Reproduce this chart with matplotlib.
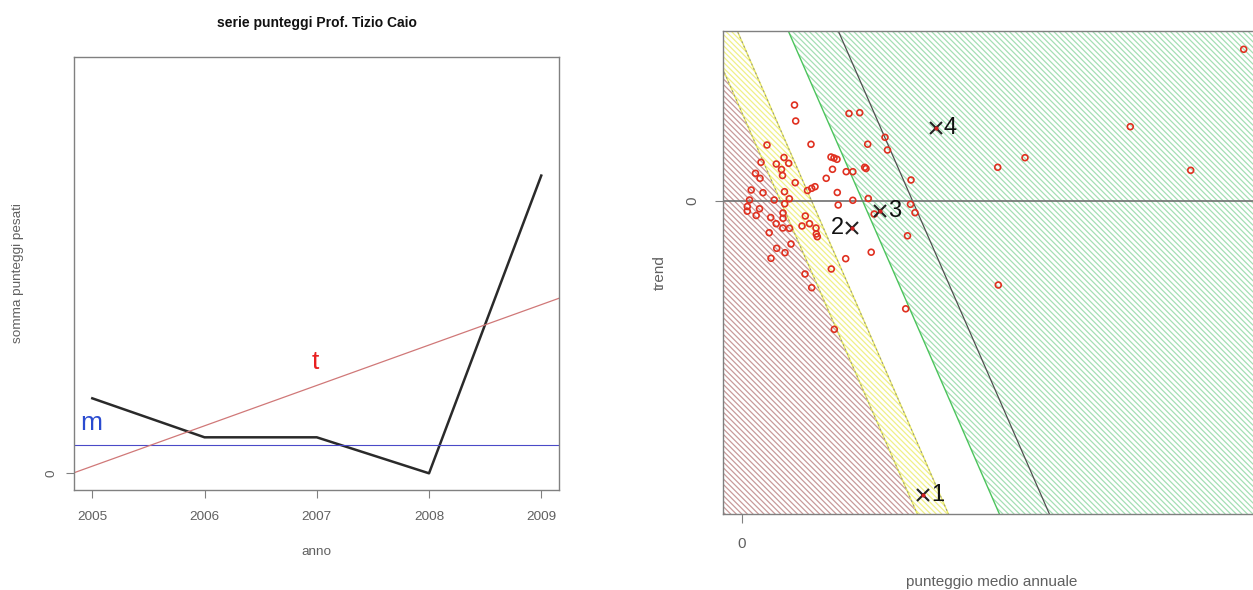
import matplotlib.pyplot as plt
import numpy as np

# ---- left panel data ----
years = [2005, 2006, 2007, 2008, 2009]
weighted_sum = [20.0, 9.6, 9.6, 0.0, 79.4]
mean_level = 7.55
trend_at_2005 = 1.9
trend_slope = 10.77

# ---- right panel data ----
avg_score = [0.525, 0.537, 1.07, 1.177, 0.25, 0.69, 0.19, 0.343, 0.42, 0.467,
             0.395, 0.405, 0.135, 0.18, 0.532, 0.89, 0.92, 0.95, 0.905, 0.842,
             1.042, 1.108, 1.227, 1.24, 0.73, 0.697, 0.655, 0.092, 0.21, 0.425,
             0.953, 0.075, 0.322, 0.473, 0.427, 1.108, 0.962, 0.053, 0.175, 0.053,
             0.41, 0.142, 0.287, 0.633, 0.41, 0.342, 0.408, 0.475, 0.60, 0.675,
             0.272, 0.74, 0.743, 0.753, 0.49, 0.347, 0.43, 0.29, 1.037, 0.893,
             0.63, 0.697, 0.923, 1.292, 1.655, 1.637, 1.69, 1.685, 1.73, 1.43,
             1.455, 1.257, 1.263, 1.322, 5.017, 3.883, 2.83, 2.557, 4.487, 2.563]
trend = [0.955, 0.795, 0.87, 0.878, 0.555, 0.562, 0.382, 0.365, 0.43, 0.372,
         0.31, 0.25, 0.272, 0.222, 0.178, 0.435, 0.425, 0.412, 0.312, 0.222,
         0.288, 0.288, 0.332, 0.32, 0.138, 0.122, 0.10, 0.105, 0.078, 0.088,
         0.08, 0.005, 0.005, 0.017, -0.033, 0.002, -0.045, -0.06, -0.083, -0.107,
         -0.125, -0.15, -0.17, -0.155, -0.178, -0.232, -0.275, -0.278, -0.255, -0.232,
         -0.322, -0.275, -0.335, -0.362, -0.435, -0.478, -0.522, -0.578, -0.582, -0.685,
         -0.735, -0.872, -1.288, -0.517, -0.353, -1.083, 0.205, -0.038, -0.122, 0.632,
         0.505, 0.563, 0.02, -0.135, 1.512, 0.738, 0.428, 0.332, 0.302, -0.845]

# highlighted profiles
prof_x = [1.813, 1.097, 1.38, 1.937]
prof_y = [-2.945, -0.278, -0.102, 0.722]
prof_labels = ['1', '2', '3', '4']
prof_side = ['right', 'left', 'right', 'right']

# class boundaries: x = intercept + slope * y
boundary_slope = -0.437
red_cut = 0.383
yellow_cut = 0.694
green_cut = 1.204
mid_line = 1.704

gray = '#606060'
plt.rcParams['font.family'] = ['Liberation Sans', 'DejaVu Sans']
plt.rcParams['hatch.linewidth'] = 0.9

fig = plt.figure(figsize=(12.53, 5.9), dpi=100)

# ================= left panel =================
ax1 = fig.add_axes([74 / 1253, 100 / 590, 485 / 1253, 433.3 / 590])
ax1.plot(years, weighted_sum, color='#2a2a2a', lw=1.8)
ax1.axhline(mean_level, color='#4a4ac8', lw=0.8)
ax1.axline((2005, trend_at_2005), slope=trend_slope, color='#d07878', lw=0.9)
ax1.text(2004.99, 13.3, 'm', color='#2a4bd0', fontsize=19, ha='center', va='center')
ax1.text(2006.99, 29.8, 't', color='#e82020', fontsize=19, ha='center', va='center')

ax1.set_xlim(2004.837, 2009.158)
ax1.set_ylim(-4.45, 111.1)
ax1.set_xticks(years)
ax1.set_xticklabels([str(y) for y in years])
ax1.set_yticks([0])
ax1.set_yticklabels(['0'], rotation=90, va='center')
ax1.tick_params(axis='x', length=6, width=0.8, color='#808080', labelcolor=gray,
                labelsize=9.7, pad=9)
ax1.tick_params(axis='y', length=6, width=0.8, color='#808080', labelcolor=gray,
                labelsize=9.7, pad=6)
for s in ax1.spines.values():
    s.set_color('#808080')
    s.set_linewidth(1.0)

ax1.set_xlabel('anno', fontsize=9.7, color=gray, va='center')
ax1.xaxis.set_label_coords(0.5, (490 - 551.7) / 433.3)
ax1.set_ylabel('somma punteggi pesati', fontsize=9.7, color=gray, va='center')
ax1.yaxis.set_label_coords((18 - 74) / 485, 0.5)
fig.text(316.5 / 1253, 1 - 23 / 590, 'serie punteggi Prof. Tizio Caio',
         fontsize=10, fontweight='bold', ha='center', va='center', color='#111111')

# ================= right panel =================
ax2 = fig.add_axes([722.7 / 1253, 76 / 590, (1261 - 722.7) / 1253, 483 / 590])
xlo, xhi = -0.193, 5.19
ylo, yhi = -3.135, 1.695
yy = np.array([ylo - 1, yhi + 1])
hatch = '\\' * 6

ax2.fill_betweenx(yy, xlo - 1, red_cut + boundary_slope * yy, facecolor='white',
                  edgecolor='#c89a9a', hatch=hatch, lw=0)
ax2.fill_betweenx(yy, red_cut + boundary_slope * yy, yellow_cut + boundary_slope * yy,
                  facecolor='white', edgecolor='#f0f088', hatch=hatch, lw=0)
ax2.fill_betweenx(yy, green_cut + boundary_slope * yy, xhi + 1, facecolor='white',
                  edgecolor='#a4dfb4', hatch=hatch, lw=0)

for c in (red_cut, yellow_cut):
    ax2.plot(c + boundary_slope * yy, yy, color='#eaea60', lw=1.0)
    ax2.plot(c + boundary_slope * yy, yy, color='#909090', lw=0.7, ls=(0, (2, 3)))
ax2.plot(green_cut + boundary_slope * yy, yy, color='#4cc45c', lw=1.0)
ax2.plot(mid_line + boundary_slope * yy, yy, color='#505050', lw=0.9)
ax2.axhline(0, color='#707070', lw=1.2)

ax2.scatter(avg_score, trend, s=18, facecolors='none', edgecolors='#e03020', lw=1.2,
            zorder=3)
ax2.plot(prof_x, prof_y, 'x', color='#222222', ms=8, mew=1.5, zorder=4)
ax2.plot(prof_x, prof_y, 'o', color='#d02020', ms=2, zorder=5)
for px, py, lab, side in zip(prof_x, prof_y, prof_labels, prof_side):
    off = 0.08 if side == 'right' else -0.08
    ax2.text(px + off, py, lab, fontsize=17, color='#111111', va='center',
             ha='left' if side == 'right' else 'right', zorder=5)

ax2.set_xlim(xlo, xhi)
ax2.set_ylim(ylo, yhi)
ax2.set_xticks([0])
ax2.set_xticklabels(['0'])
ax2.set_yticks([0])
ax2.set_yticklabels(['0'], rotation=90, va='center')
ax2.tick_params(axis='x', length=6.5, width=0.8, color='#808080', labelcolor=gray,
                labelsize=11, pad=10)
ax2.tick_params(axis='y', length=6, width=0.8, color='#808080', labelcolor=gray,
                labelsize=11, pad=11)
for s in ax2.spines.values():
    s.set_color('#808080')
    s.set_linewidth(1.0)
ax2.set_xlabel('punteggio medio annuale', fontsize=11, color=gray, va='center')
ax2.xaxis.set_label_coords(0.5, (514 - 581.7) / 483)
ax2.set_ylabel('trend', fontsize=11, color=gray, va='center')
ax2.yaxis.set_label_coords((660 - 722.7) / 538.3, 0.5)

fig.savefig('out.png', dpi=100)
